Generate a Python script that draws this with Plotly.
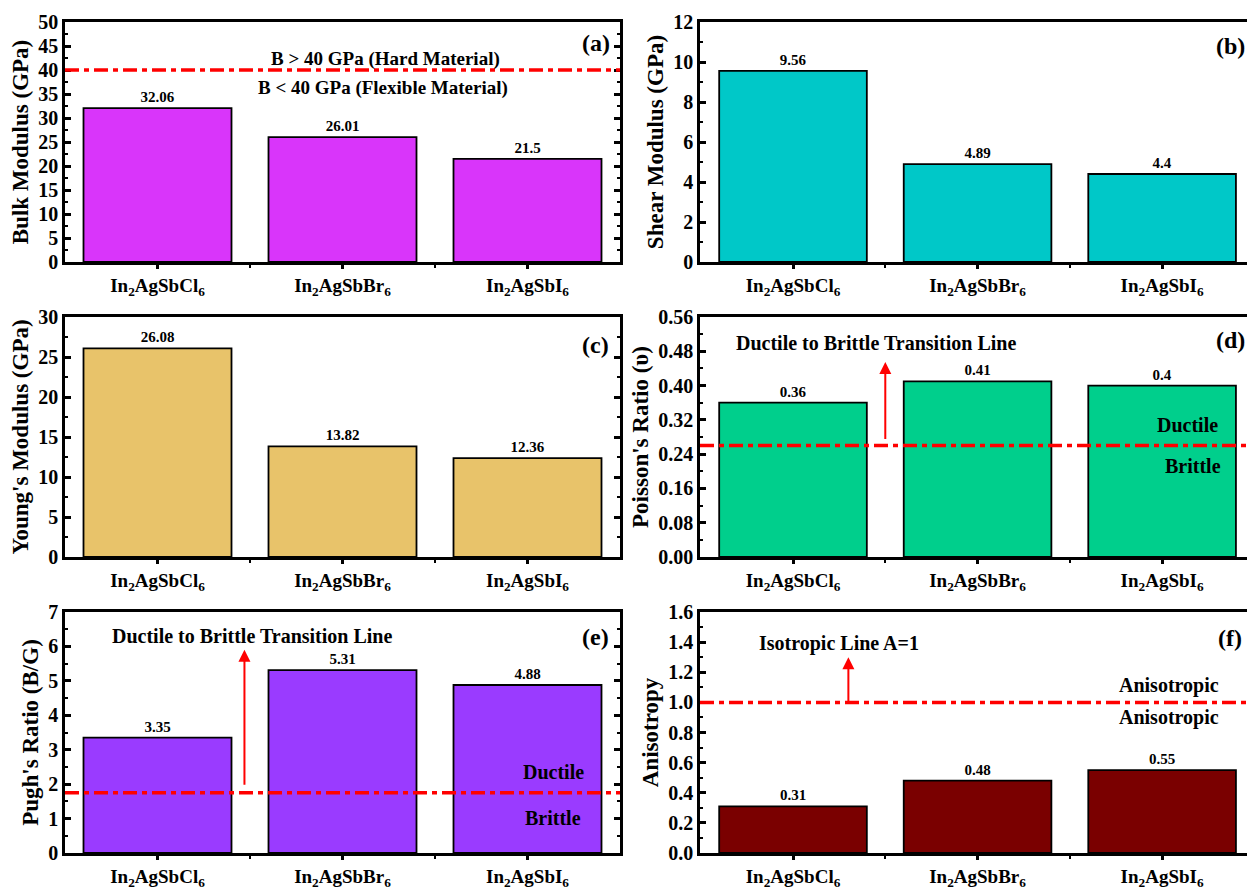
import plotly.graph_objects as go
from plotly.subplots import make_subplots

# ---------------- data ----------------
categories = ["In<sub>2</sub>AgSbCl<sub>6</sub>", "In<sub>2</sub>AgSbBr<sub>6</sub>", "In<sub>2</sub>AgSbI<sub>6</sub>"]
bulk_modulus = [32.06, 26.01, 21.5]
shear_modulus = [9.56, 4.89, 4.4]
youngs_modulus = [26.08, 13.82, 12.36]
poisson_ratio = [0.36, 0.41, 0.4]
pugh_ratio = [3.35, 5.31, 4.88]
anisotropy = [0.31, 0.48, 0.55]

bulk_threshold = 40
poisson_threshold = 0.26
pugh_threshold = 1.75
isotropic_line = 1.0

panels = [
    # (values, color, y title, y range, dtick, minor dtick, tickformat, panel letter)
    (bulk_modulus, "#D935FA", "Bulk Modulus (GPa)", [0, 50], 5, 2.5, None, "(a)"),
    (shear_modulus, "#00C8C8", "Shear Modulus (GPa)", [0, 12], 2, 1, None, "(b)"),
    (youngs_modulus, "#E8C36A", "Young's Modulus (GPa)", [0, 30], 5, 2.5, None, "(c)"),
    (poisson_ratio, "#00CF8C", "Poisson's Ratio (\u03c5)", [0, 0.56], 0.08, 0.04, ".2f", "(d)"),
    (pugh_ratio, "#9A3BFF", "Pugh's Ratio (B/G)", [0, 7], 1, 0.5, None, "(e)"),
    (anisotropy, "#7A0000", "Anisotropy", [0, 1.6], 0.2, 0.1, ".1f", "(f)"),
]

FONT = "Liberation Serif"
W, H = 1247, 889

fig = make_subplots(rows=3, cols=2)

col_dom = {1: [65 / W, 620 / W], 2: [700 / W, 1.0]}
col_xrange = {1: [-0.5, 2.5], 2: [-0.504, 2.46]}
row_px = {1: (22, 262), 2: (317, 557), 3: (612, 853)}

x_idx = [0, 1, 2]
for i, (vals, color, ytitle, yr, dt, mdt, tf, letter) in enumerate(panels):
    row = i // 2 + 1
    col = i % 2 + 1
    fig.add_trace(
        go.Bar(
            x=x_idx, y=vals, width=0.8,
            marker=dict(color=color, line=dict(color="black", width=1.8)),
            text=[str(v) for v in vals], textposition="outside",
            textfont=dict(family=FONT, size=15, color="black", weight="bold"),
            cliponaxis=False, showlegend=False,
        ),
        row=row, col=col,
    )
    n = i + 1
    xa = "xaxis" if n == 1 else f"xaxis{n}"
    ya = "yaxis" if n == 1 else f"yaxis{n}"
    top, bot = row_px[row]
    fig.layout[xa].update(
        domain=col_dom[col], range=col_xrange[col], automargin=False,
        tickvals=x_idx, ticktext=categories,
        ticks="outside", ticklen=4, tickwidth=2.5, tickcolor="black",
        minor=dict(tickvals=[0.5, 1.5], ticks="outside", ticklen=3, tickwidth=1.5, tickcolor="black"),
        showline=True, linewidth=2.5, linecolor="black", mirror=True,
        showgrid=False, zeroline=False,
        tickfont=dict(family=FONT, size=19, color="black", weight="bold"),
    )
    fig.layout[ya].update(
        domain=[1 - bot / H, 1 - top / H], range=yr, dtick=dt, automargin=False,
        tickformat=tf,
        ticks="inside", ticklen=6, tickwidth=2.5, tickcolor="black",
        showline=True, linewidth=2.5, linecolor="black",
        mirror="ticks" if col == 1 else False,
        minor=dict(dtick=mdt, ticks="inside", ticklen=3, tickwidth=1.5, tickcolor="black"),
        showgrid=False, zeroline=False,
        tickfont=dict(family=FONT, size=20, color="black", weight="bold"),
        title=dict(text=ytitle, font=dict(family=FONT, size=23, color="black", weight="bold"), standoff=4),
    )

# ---------------- threshold lines ----------------
lines = [(1, bulk_threshold), (4, poisson_threshold), (5, pugh_threshold), (6, isotropic_line)]
for n, yv in lines:
    xs = "x" if n == 1 else f"x{n}"
    ys = "y" if n == 1 else f"y{n}"
    fig.add_shape(type="line", xref=f"{xs} domain", yref=ys, x0=0, x1=1, y0=yv, y1=yv,
                  line=dict(color="#FF0000", width=3.5, dash="14px,5px,5px,5px"))

# ---------------- annotations ----------------
def ann(n, x, y, text, size=20, **kw):
    xs = "x" if n == 1 else f"x{n}"
    ys = "y" if n == 1 else f"y{n}"
    fig.add_annotation(xref=xs, yref=ys, x=x, y=y, text=text, showarrow=False,
                       font=dict(family=FONT, size=size, color="black", weight="bold"), **kw)

def arrow(n, x, y0, y1):
    xs = "x" if n == 1 else f"x{n}"
    ys = "y" if n == 1 else f"y{n}"
    fig.add_annotation(xref=xs, yref=ys, axref=xs, ayref=ys, x=x, y=y1, ax=x, ay=y0,
                       text="", showarrow=True, arrowhead=2, arrowsize=1.2,
                       arrowwidth=2, arrowcolor="#FF0000")

letters_pos = {1: 45.6, 2: 10.8, 3: 26.5, 4: 0.506, 5: 6.27, 6: 1.43}
for n, yv in letters_pos.items():
    ann(n, 2.37, yv, panels[n - 1][7], size=24)

ann(1, 1.23, 42.2, "B &gt; 40 GPa (Hard Material)", size=19)
ann(1, 1.22, 36.2, "B &lt; 40 GPa (Flexible Material)", size=19)

ann(4, 0.45, 0.50, "Ductile to Brittle Transition Line")
arrow(4, 0.5, 0.272, 0.455)
ann(4, 2.14, 0.309, "Ductile")
ann(4, 2.17, 0.212, "Brittle")

ann(5, 0.51, 6.31, "Ductile to Brittle Transition Line")
arrow(5, 0.47, 1.94, 5.9)
ann(5, 2.14, 2.35, "Ductile")
ann(5, 2.14, 1.02, "Brittle")

ann(6, 0.25, 1.39, "Isotropic Line A=1")
arrow(6, 0.30, 1.0, 1.30)
ann(6, 2.04, 1.11, "Anisotropic")
ann(6, 2.04, 0.90, "Anisotropic")

fig.update_layout(
    width=W, height=H,
    margin=dict(l=0, r=0, t=0, b=0, autoexpand=False),
    plot_bgcolor="white", paper_bgcolor="white",
    bargap=0.2, showlegend=False,
    font=dict(family=FONT, color="black"),
)

fig.write_html("out.html")
